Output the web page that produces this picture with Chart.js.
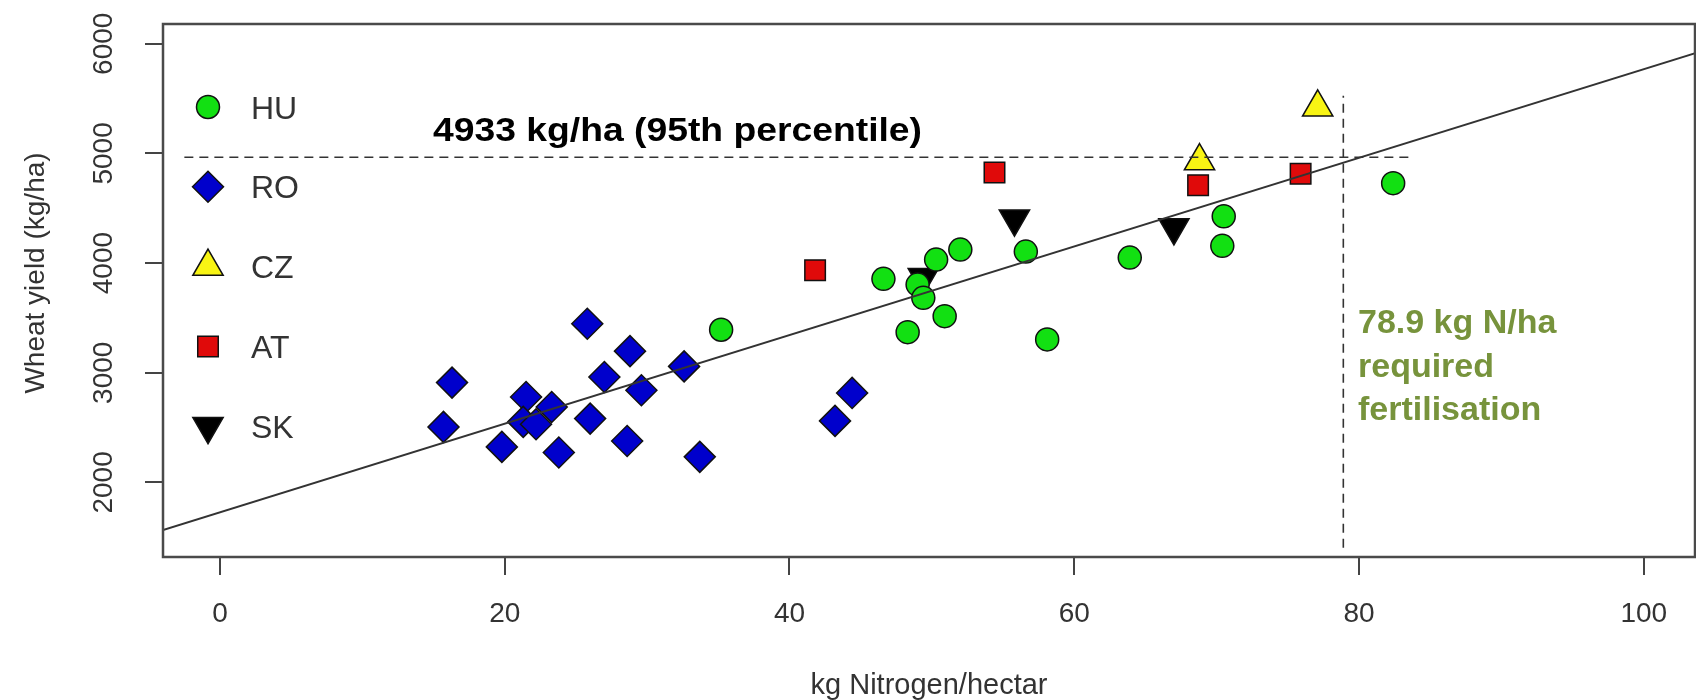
<!DOCTYPE html>
<html>
<head>
<meta charset="utf-8">
<script src="https://cdn.jsdelivr.net/npm/chart.js@4.4.0/dist/chart.umd.min.js"></script>
<style>
  html, body { margin: 0; padding: 0; background: #fff; overflow: hidden; }
</style>
</head>
<body>
<canvas id="canvas" width="1696" height="700"></canvas>
<script>
// values (kg N/ha, kg/ha)
const huX = [35.2, 46.6, 48.3, 49.0, 49.4, 50.3, 50.9, 52.0, 56.6, 58.1, 63.9, 70.4, 70.5, 82.4];
const huY = [3392, 3856, 3370, 3804, 3683, 4032, 3516, 4123, 4105, 3304, 4050, 4157, 4426, 4729];

const roX = [16.3, 15.7, 19.8, 21.5, 21.3, 22.2, 23.3, 23.8, 25.8, 26.0, 27.0, 28.8, 28.6, 29.6, 32.6, 33.7, 43.2, 44.4];
const roY = [2910, 2506, 2324, 2779, 2552, 2531, 2688, 2273, 3447, 2582, 2961, 3197, 2378, 2840, 3058, 2233, 2561, 2816];

const czX = [68.8, 77.1];
const czY = [4930, 5420];

const atX = [41.8, 54.4, 68.7, 75.9];
const atY = [3935, 4825, 4710, 4815];

const skX = [49.4, 55.8, 67.0];
const skY = [3870, 4405, 4325];

// regression line and the two dashed guide lines
const fitX = [-4, 104];
const fitY = [1565, 5930];
const pctX = [-2.5, 83.7];
const pctY = [4965, 4965];
const reqX = [78.9, 78.9];
const reqY = [1405, 5525];

const xTicks = [0, 20, 40, 60, 80, 100];
const yTicks = [2000, 3000, 4000, 5000, 6000];

const countries = ['HU', 'RO', 'CZ', 'AT', 'SK'];

const FONT = "'Liberation Sans', Arial, sans-serif";

function toPts(xs, ys) {
  return xs.map((x, i) => ({ x: x, y: ys[i] }));
}

function markerSet(label, xs, ys, style, radius, fill, rotation) {
  return {
    label: label,
    data: toPts(xs, ys),
    pointStyle: style,
    pointRadius: radius,
    pointRotation: rotation || 0,
    pointBackgroundColor: fill,
    pointBorderColor: '#111',
    pointBorderWidth: 1.5,
    showLine: false,
    isMarker: true
  };
}

function guideLine(label, xs, ys, dash, width) {
  return {
    label: label,
    data: toPts(xs, ys),
    showLine: true,
    borderColor: '#333',
    borderWidth: width,
    borderDash: dash,
    pointRadius: 0,
    fill: false
  };
}

// box around the plot region + y axis title
const boxPlugin = {
  id: 'box',
  afterDraw(chart) {
    const a = chart.chartArea;
    const ctx = chart.ctx;
    ctx.save();
    ctx.strokeStyle = '#4a4a4a';
    ctx.lineWidth = 2.5;
    ctx.strokeRect(a.left, a.top, a.right - a.left, a.bottom - a.top);

    ctx.translate(36, 273);
    ctx.rotate(-Math.PI / 2);
    ctx.fillStyle = '#333';
    ctx.font = '28px ' + FONT;
    ctx.textAlign = 'center';
    ctx.textBaseline = 'middle';
    ctx.fillText('Wheat yield (kg/ha)', 0, 0);
    ctx.restore();
  }
};

// legend inside the plot, drawn from the marker datasets
const legendPlugin = {
  id: 'innerLegend',
  afterDraw(chart) {
    const ctx = chart.ctx;
    const sets = chart.data.datasets.filter(d => d.isMarker);
    ctx.save();
    sets.forEach((ds, i) => {
      const y = 107 + i * 79.8;
      ctx.fillStyle = ds.pointBackgroundColor;
      ctx.strokeStyle = ds.pointBorderColor;
      ctx.lineWidth = ds.pointBorderWidth;
      Chart.helpers.drawPoint(ctx, {
        pointStyle: ds.pointStyle,
        rotation: ds.pointRotation,
        radius: ds.pointRadius,
        borderWidth: ds.pointBorderWidth
      }, 208, y);
      ctx.fillStyle = '#333';
      ctx.font = '32px ' + FONT;
      ctx.textAlign = 'left';
      ctx.textBaseline = 'alphabetic';
      ctx.fillText(ds.label, 251, y + 11.5);
    });
    ctx.restore();
  }
};

// the two text notes
const notePlugin = {
  id: 'notes',
  afterDraw(chart) {
    const ctx = chart.ctx;
    ctx.save();
    ctx.textAlign = 'left';
    ctx.textBaseline = 'alphabetic';

    const t = '4933 kg/ha (95th percentile)';
    ctx.font = 'bold 33px ' + FONT;
    const w = ctx.measureText(t).width;
    ctx.translate(433, 141);
    ctx.scale(489 / w, 1);
    ctx.fillStyle = '#000';
    ctx.fillText(t, 0, 0);
    ctx.setTransform(1, 0, 0, 1, 0, 0);

    ctx.fillStyle = '#77933c';
    ctx.font = 'bold 34px ' + FONT;
    ctx.fillText('78.9 kg N/ha', 1358, 333);
    ctx.fillText('required', 1358, 376.5);
    ctx.fillText('fertilisation', 1358, 420);
    ctx.restore();
  }
};

const ctx = document.getElementById('canvas');
new Chart(ctx, {
  type: 'scatter',
  data: {
    datasets: [
      guideLine('fit', fitX, fitY, [], 2),
      guideLine('95th percentile', pctX, pctY, [9, 6], 1.6),
      guideLine('required N', reqX, reqY, [9, 6], 1.6),
      markerSet(countries[0], huX, huY, 'circle', 11.5, '#12e012'),
      markerSet(countries[1], roX, roY, 'rectRot', 15.5, '#0000cc'),
      markerSet(countries[2], czX, czY, 'triangle', 17.5, '#f8f414'),
      markerSet(countries[3], atX, atY, 'rect', 14.5, '#e00a0a'),
      markerSet(countries[4], skX, skY, 'triangle', 17.5, '#000', 180)
    ]
  },
  options: {
    responsive: false,
    animation: false,
    events: [],
    layout: { autoPadding: false, padding: { top: 24, right: 1, left: 0, bottom: 0 } },
    plugins: {
      legend: { display: false },
      tooltip: { enabled: false }
    },
    scales: {
      x: {
        type: 'linear',
        min: -4,
        max: 103.6,
        afterBuildTicks: (axis) => { axis.ticks = xTicks.map(v => ({ value: v })); },
        afterFit: (axis) => { axis.height = 143; axis.paddingLeft = 0; axis.paddingRight = 0; },
        grid: { drawOnChartArea: false, color: '#444', lineWidth: 2, tickLength: 18 },
        border: { display: false },
        ticks: {
          color: '#333',
          font: { family: FONT, size: 28 },
          padding: 22,
          maxRotation: 0,
          callback: (v) => String(v)
        },
        title: {
          display: true,
          text: 'kg Nitrogen/hectar',
          color: '#333',
          font: { family: FONT, size: 29, lineHeight: 1.0 },
          padding: { top: 0, bottom: 0 }
        }
      },
      y: {
        type: 'linear',
        min: 1320,
        max: 6180,
        afterBuildTicks: (axis) => { axis.ticks = yTicks.map(v => ({ value: v })); },
        afterFit: (axis) => { axis.width = 163; axis.paddingTop = 0; axis.paddingBottom = 0; },
        grid: { drawOnChartArea: false, color: '#444', lineWidth: 2, tickLength: 18 },
        border: { display: false },
        ticks: {
          color: '#333',
          font: { family: FONT, size: 28 },
          padding: 10,
          minRotation: 90,
          maxRotation: 90,
          crossAlign: 'center',
          callback: (v) => String(v)
        },
        title: { display: false }
      }
    }
  },
  plugins: [boxPlugin, legendPlugin, notePlugin]
});
</script>
</body>
</html>
